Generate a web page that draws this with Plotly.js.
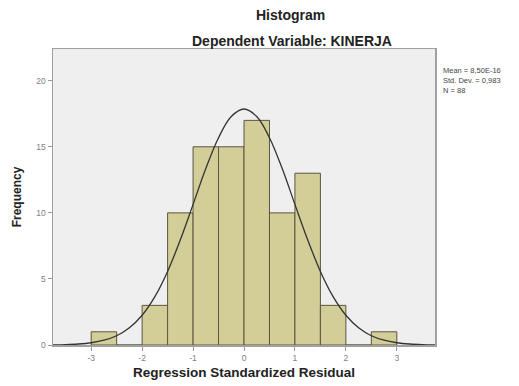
<!DOCTYPE html>
<html><head><meta charset="utf-8">
<script src="https://cdn.plot.ly/plotly-3.0.1.min.js"></script>
<style>html,body{margin:0;padding:0;background:#fff}#c{width:519px;height:386px}</style>
</head><body><div id="c"></div>
<script>
// Histogram bins (centers, width 0.5) and frequencies
const binCenters = [-2.75, -2.25, -1.75, -1.25, -0.75, -0.25, 0.25, 0.75, 1.25, 1.75, 2.25, 2.75];
const counts     = [1, 0, 3, 10, 15, 15, 17, 10, 13, 3, 0, 1];
// Normal curve
const curveX = [-3.75,-3.5,-3.25,-3,-2.75,-2.5,-2.25,-2,-1.75,-1.5,-1.25,-1,-0.75,-0.5,-0.25,0,0.25,0.5,0.75,1,1.25,1.5,1.75,2,2.25,2.5,2.75,3,3.25,3.5,3.75];
const curveY = [0.01,0.03,0.075,0.17,0.36,0.70,1.30,2.25,3.66,5.57,7.96,10.64,13.35,15.69,17.29,17.86,17.29,15.69,13.35,10.64,7.96,5.57,3.66,2.25,1.30,0.70,0.36,0.17,0.075,0.03,0.01];
const xTickVals = [-3,-2,-1,0,1,2,3];
const xTickText = ["-3","-2","-1","0","1","2","3"];
const yTickVals = [0,5,10,15,20];
const statsLines = ["Mean = 8,50E-16","Std. Dev. = 0,983","N = 88"];

const traces = [
  {type:'bar', x:binCenters, y:counts, width:0.5,
   marker:{color:'#d3cd98', line:{color:'#5a5640', width:1}}, hoverinfo:'skip'},
  {type:'scatter', mode:'lines', x:curveX, y:curveY, line:{color:'#333333', width:1.3, shape:'spline'}, hoverinfo:'skip'}
];
const FF = 'Liberation Sans, Arial, sans-serif';
const tickFont = {family:FF, size:8.5, color:'#808080'};
const layout = {
  width:519, height:386,
  margin:{l:53, r:84, t:49, b:41},
  paper_bgcolor:'#ffffff', plot_bgcolor:'#efefef',
  showlegend:false, bargap:0,
  xaxis:{range:[-3.75,3.75], tickvals:xTickVals, ticktext:xTickText, ticks:'outside', ticklen:4, tickcolor:'#999',
         showgrid:false, zeroline:false, showline:true, mirror:true, linecolor:'#a0a0a0', linewidth:1.5, tickfont:tickFont,
         title:{text:'<b>Regression Standardized Residual</b>', font:{family:FF, size:13.5, color:'#222'}, standoff:6}},
  yaxis:{range:[0,22.4], tickvals:yTickVals, ticks:'outside', ticklen:4, tickcolor:'#999',
         showgrid:false, zeroline:false, showline:true, mirror:true, linecolor:'#a0a0a0', linewidth:1.5, tickfont:tickFont,
         title:{text:'<b>Frequency</b>', font:{family:FF, size:12, color:'#222'}, standoff:12}},
  annotations:[
    {text:'<b>Histogram</b>', xref:'paper', yref:'paper', x:(290-53)/382, y:(386-41-15)/296, xanchor:'center', yanchor:'middle', showarrow:false,
     font:{family:FF, size:14, color:'#222'}},
    {text:'<b>Dependent Variable: KINERJA</b>', xref:'paper', yref:'paper', x:(292-53)/382, y:(386-41-41)/296, xanchor:'center', yanchor:'middle', showarrow:false,
     font:{family:FF, size:14, color:'#222'}},
    {text:statsLines.join('<br>'), xref:'paper', yref:'paper', x:(441-53)/382, y:(386-41-64)/296, xanchor:'left', yanchor:'top', align:'left', showarrow:false,
     font:{family:FF, size:7.5, color:'#444'}}
  ]
};
Plotly.newPlot('c', traces, layout, {staticPlot:true, displayModeBar:false});
</script></body></html>
